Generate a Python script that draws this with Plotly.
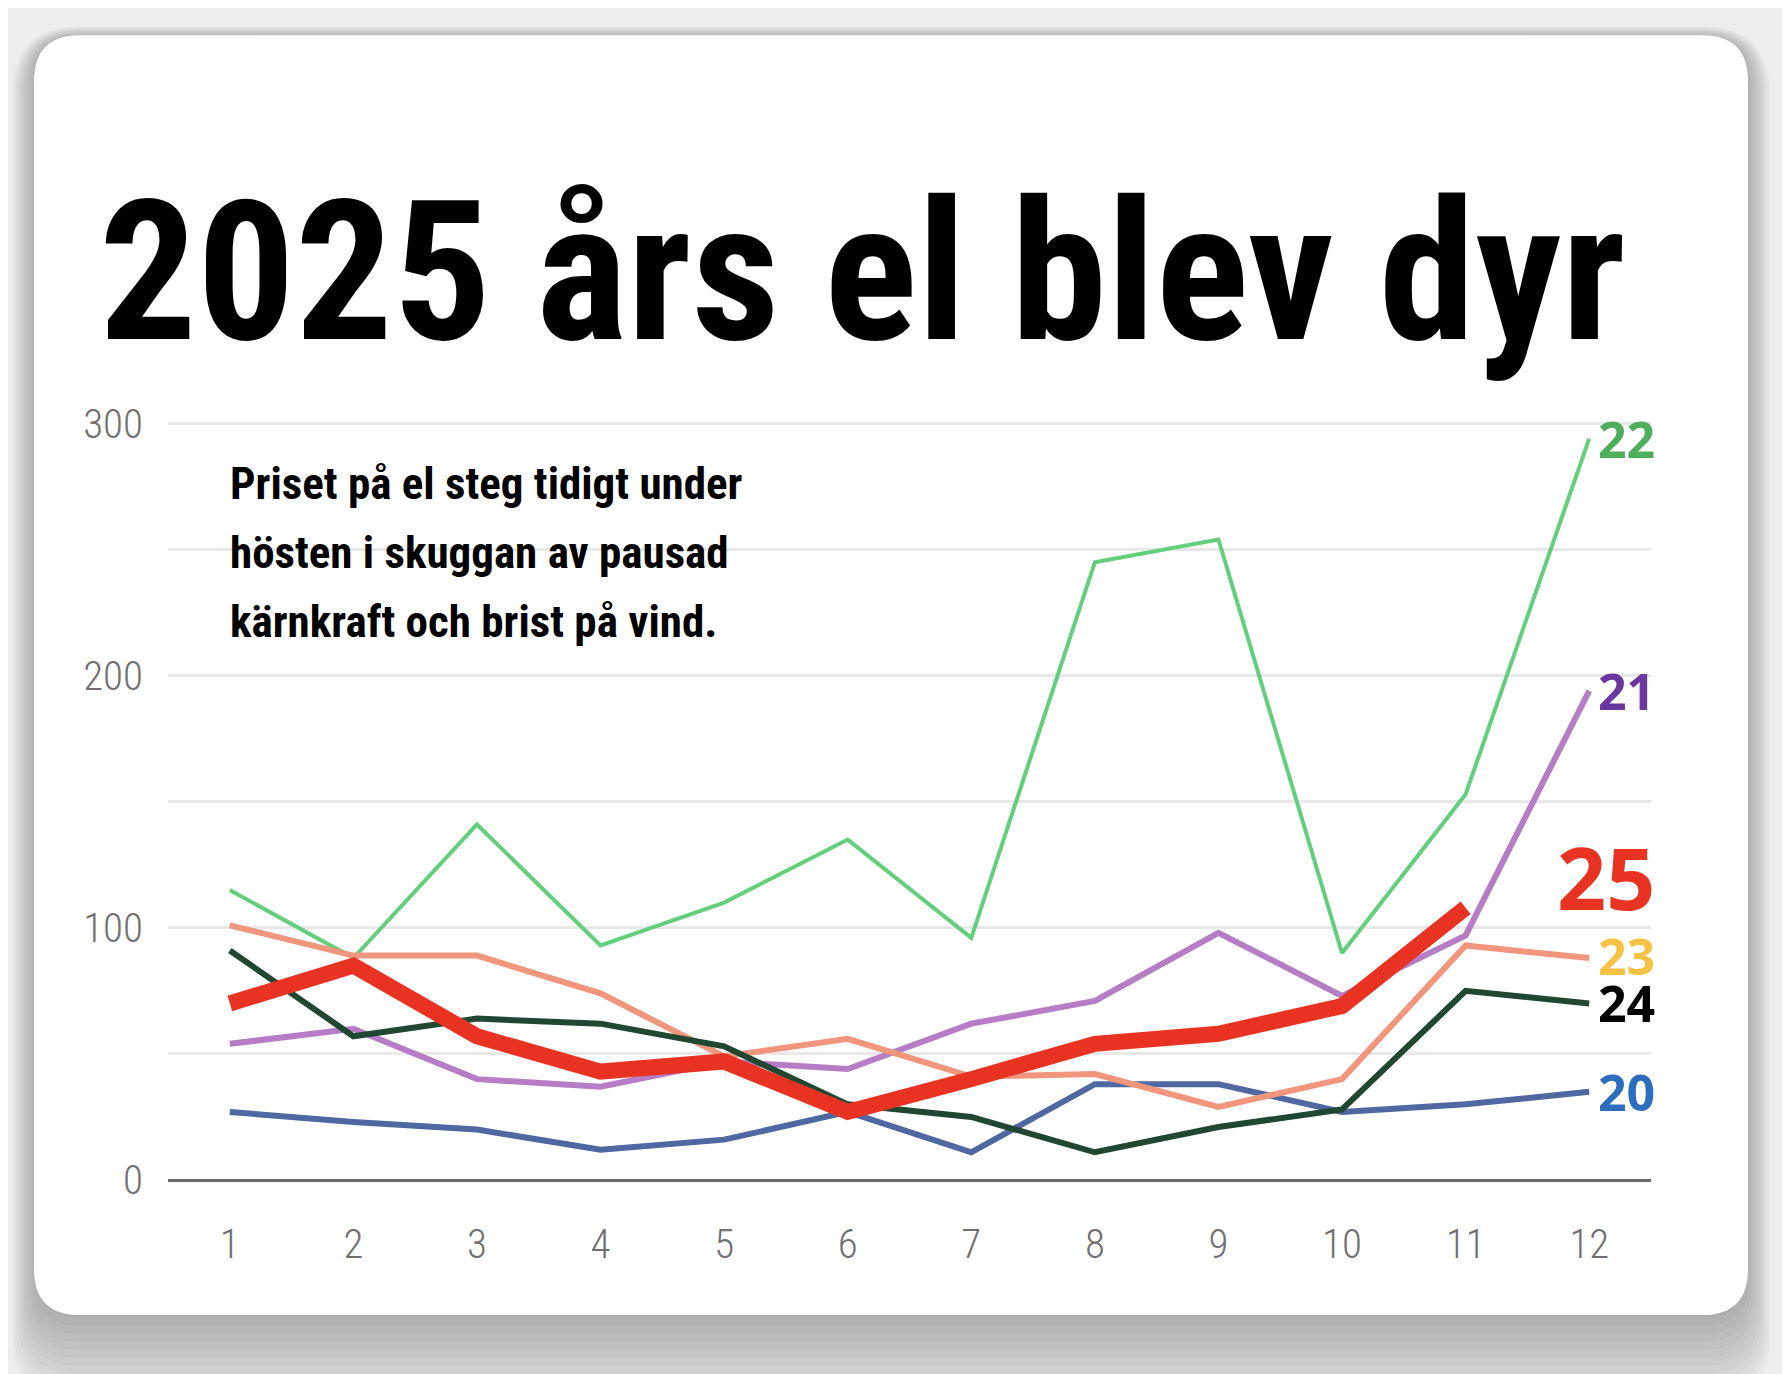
import plotly.graph_objects as go

# månadspris per år (öre/kWh)
months = list(range(1, 13))
pris_2020 = [27, 23, 20, 12, 16, 27, 11, 38, 38, 27, 30, 35]
pris_2021 = [54, 60, 40, 37, 47, 44, 62, 71, 98, 73, 97, 194]
pris_2022 = [115, 88, 141, 93, 110, 135, 96, 245, 254, 90, 153, 294]
pris_2023 = [101, 89, 89, 74, 49, 56, 41, 42, 29, 40, 93, 88]
pris_2024 = [91, 57, 64, 62, 53, 30, 25, 11, 21, 28, 75, 70]
pris_2025 = [70, 85, 57, 43, 47, 27, 40, 54, 58, 69, 108]

y_ticks = [0, 50, 100, 150, 200, 250, 300]
y_ticktext = ["0", "", "100", "", "200", "", "300"]

title = "2025 års el blev dyr"
subtitle = ["Priset på el steg tidigt under",
            "hösten i skuggan av pausad",
            "kärnkraft och brist på vind."]

# sidan har 8 px marginal i body, så figuren görs 8 px mindre
OFF = 8
W, H = 1790 - OFF, 1374 - OFF
YMAX = 300.6
X0, X1, Y0 = 168, 1651, 1180          # plotytan i sidans pixlar
PW = X1 - X0
PH = (Y0 - 424) * YMAX / 300
L, T = X0 - OFF, Y0 - PH - OFF
R, B = 1790 - X1, 1374 - Y0


def px(x):
    return (x - X0) / PW


def py(y):
    return (Y0 - y) / PH


def rounded_rect(x0, y0, x1, y1, r):
    # sidans pixlar (y nedåt) -> paper-path
    pts = [
        f"M {px(x0 + r)} {py(y0)}",
        f"L {px(x1 - r)} {py(y0)}",
        f"Q {px(x1)} {py(y0)} {px(x1)} {py(y0 + r)}",
        f"L {px(x1)} {py(y1 - r)}",
        f"Q {px(x1)} {py(y1)} {px(x1 - r)} {py(y1)}",
        f"L {px(x0 + r)} {py(y1)}",
        f"Q {px(x0)} {py(y1)} {px(x0)} {py(y1 - r)}",
        f"L {px(x0)} {py(y0 + r)}",
        f"Q {px(x0)} {py(y0)} {px(x0 + r)} {py(y0)}",
        "Z",
    ]
    return " ".join(pts)


series = [
    ("20", pris_2020, "#4f68a2", 6, "#2d6dc0", 50, 0),
    ("21", pris_2021, "#b67cc5", 6, "#6a36a0", 50, 0),
    ("22", pris_2022, "#63cf7c", 4, "#4fae5c", 50, 0),
    ("23", pris_2023, "#f1957d", 6, "#f5c243", 50, 2),
    ("24", pris_2024, "#1f4732", 6, "#000000", 50, 0),
    ("25", pris_2025, "#e83323", 16, "#e83323", 86, 31),
]

fig = go.Figure()
for name, vals, col, w, lab_col, lab_size, shift in series:
    fig.add_trace(go.Scatter(
        x=months[:len(vals)], y=vals, mode="lines", name=name,
        line=dict(color=col, width=w), hoverinfo="skip",
    ))
    fig.add_annotation(
        x=1, xref="paper", y=vals[-1], yref="y", yshift=shift, xshift=6,
        xanchor="right", yanchor="middle", showarrow=False,
        text=name, font=dict(family="Open Sans", size=lab_size, color=lab_col, weight="bold"),
    )

# kort med mjuk skugga, tyngst under kortet
shapes = []
for i in range(12):
    e = 2 * i
    shapes.append(dict(type="path", xref="paper", yref="paper", layer="below",
                       path=rounded_rect(34 - e, 38 - i, 1748 + e, 1318 + 8 * i, 46 + e),
                       fillcolor="rgba(0,0,0,0.022)", line=dict(width=0)))
shapes.append(dict(type="path", xref="paper", yref="paper", layer="below",
                   path=rounded_rect(34, 36, 1748, 1315, 46),
                   fillcolor="white", line=dict(width=0)))

cond = "Roboto Condensed, Open Sans Condensed, DejaVu Sans Condensed, sans-serif"

fig.add_annotation(x=px(97), y=py(273), xref="paper", yref="paper",
                   xanchor="left", yanchor="middle", showarrow=False,
                   text=title, font=dict(family=cond, size=194, color="black", weight="bold"))
for i, line in enumerate(subtitle):
    fig.add_annotation(x=px(228), y=py(484 + 69 * i), xref="paper", yref="paper",
                       xanchor="left", yanchor="middle", showarrow=False,
                       text=line, font=dict(family=cond, size=45, color="black", weight="bold"))

fig.update_layout(
    width=W, height=H,
    margin=dict(l=L, r=R, t=T, b=B),
    paper_bgcolor="#eeeeee", plot_bgcolor="rgba(0,0,0,0)",
    showlegend=False, shapes=shapes,
)
fig.update_xaxes(range=[0.5, 12.5], tickvals=months, showgrid=False, zeroline=False,
                 showline=False, ticks="", ticklabelstandoff=36,
                 tickfont=dict(family=cond, size=41, color="#707070", weight=300))
fig.update_yaxes(range=[0, YMAX], tickvals=y_ticks, ticktext=y_ticktext,
                 showgrid=True, gridcolor="#e8e8e8", gridwidth=3,
                 zeroline=True, zerolinecolor="#6b6b6b", zerolinewidth=3,
                 ticks="", ticklabelstandoff=24,
                 tickfont=dict(family=cond, size=41, color="#707070", weight=300))

fig.write_html("out.html")
